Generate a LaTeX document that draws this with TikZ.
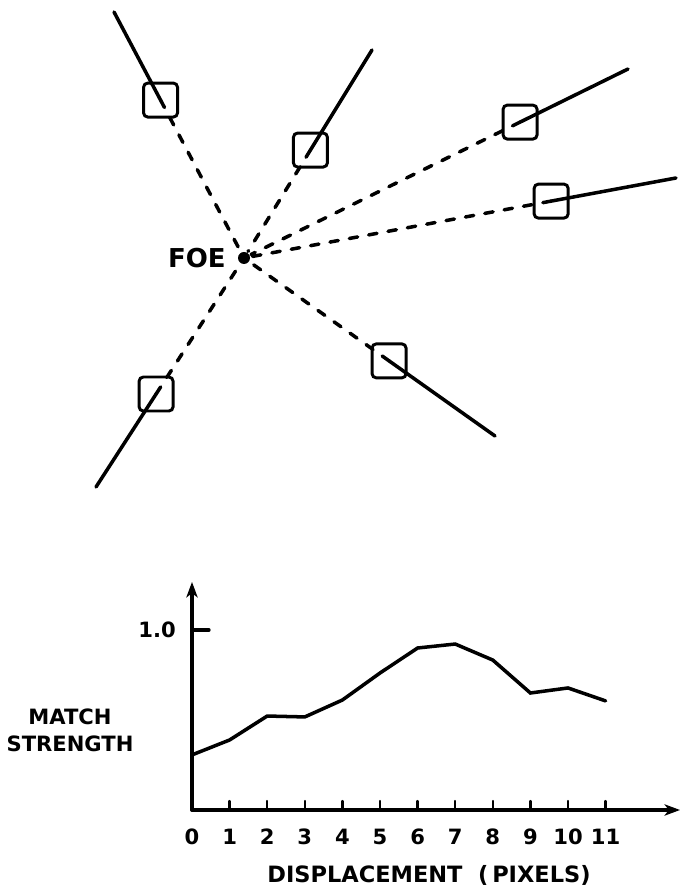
\documentclass[tikz,border=0pt]{standalone}
\usepackage{fontspec}
\setmainfont{DejaVu Sans}
\usetikzlibrary{positioning,calc,arrows.meta}

\begin{document}
\begin{tikzpicture}[>={Stealth[length=11pt,width=8pt,inset=3pt]}, line width=2.5pt, line cap=round,
  win/.style={draw, line width=2.1pt, rounded corners=3pt, minimum size=0.85cm, inner sep=0pt},
  ray/.style={dash pattern=on 6pt off 8pt},
  lbl/.style={font=\bfseries\fontsize{15}{19}\selectfont, inner sep=0pt}]

\useasboundingbox (0,0) rectangle (17.025,22.175);

% ----- Focus of expansion -----
\node[circle, fill, inner sep=0pt, minimum size=0.3cm] (foe) at (6.10,15.725) {};
\node[left=0.22cm of foe, inner sep=0pt, font=\bfseries\fontsize{18.5}{20}\selectfont] (foelbl) {FOE};

% ----- Flow lines with their windows -----
\foreach \n/\ex/\ey/\t in {1/2.85/21.875/0.642, 2/9.30/20.925/0.519, 3/15.70/20.45/0.719,
                           4/16.90/17.725/0.711, 5/12.375/11.275/0.578, 6/2.40/10.00/0.594}{
  \coordinate (end\n) at (\ex,\ey);
  \node[win] (win\n) at ($(foe)!\t!(end\n)$) {};
  \draw (end\n) -- (win\n.center);
  \draw[ray] (win\n.center) -- (foe);
}

% ----- Match strength plot -----
\begin{scope}[xshift=4.8cm, yshift=1.925cm, x=0.94cm, y=4.5cm]
  \draw[->] (0,0) -- (12.98,0);
  \draw[->] (0,0) -- (0,1.267);
  \coordinate (top1) at (0,1);
  \draw (top1) -- (0.45,1);
  \node[lbl, left=0.36cm of top1] (onelbl) {1.0};
  \foreach \k in {1,...,11}
    \draw[line width=1.6pt] (\k,0) -- (\k,0.05);
  \foreach \k in {0,...,11}
    \node[lbl] (tick\k) at (\k,-0.15) {\k};
  \draw plot coordinates {(0,0.306) (1,0.389) (2,0.522) (3,0.517) (4,0.611) (5,0.761)
                          (6,0.9) (7,0.922) (8,0.833) (9,0.65) (10,0.678) (11,0.606)};
\end{scope}

\node[lbl, align=center] (ylbl) at (1.75,3.925) {MATCH\\STRENGTH};
\node[lbl, font=\bfseries\fontsize{16}{19}\selectfont] (xlbl) at (10.725,0.30) {DISPLACEMENT\ \ (\,PIXELS)};
\end{tikzpicture}
\end{document}
